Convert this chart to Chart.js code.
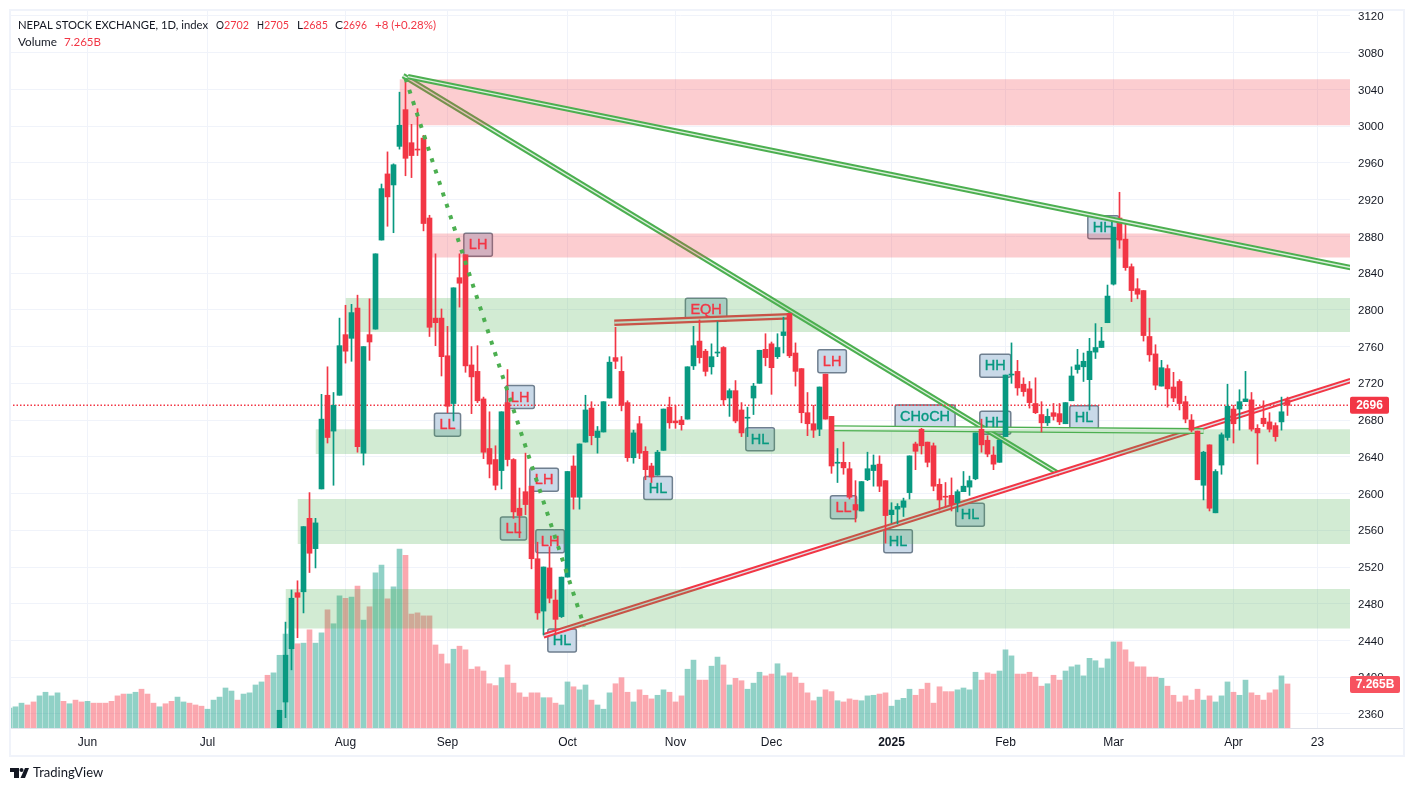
<!DOCTYPE html>
<html>
<head>
<meta charset="utf-8">
<title>NEPSE</title>
<script src="https://cdn.jsdelivr.net/npm/chart.js@4/dist/chart.umd.min.js"></script>
<style>
  html, body { margin: 0; background: #fff; }
  canvas { position: absolute; left: 0; top: 0; }
</style>
</head>
<body>
<canvas id="nepse-chart" width="1414" height="791"></canvas>
<script>
// bar numbers: 0 is the first bar on screen, candles start further right
const firstCandle = 45;

const opens = [2340,2373,2431,2492,2493,2573,2540,2605,2707,2668,2707,2773,2769,2802,2644,2773,2779,2876,2948,2936,2978,3018,2982,2975,2987,2900,2791,2791,2750,2698,2835,2860,2740,2733,2703,2649,2637,2625,2699,2637,2584,2602,2608,2529,2472,2519,2484,2466,2509,2630,2596,2656,2693,2661,2667,2704,2748,2733,2699,2639,2676,2646,2630,2620,2647,2694,2679,2680,2681,2739,2766,2755,2738,2753,2759,2704,2712,2691,2682,2704,2720,2757,2763,2749,2772,2796,2753,2736,2688,2676,2670,2730,2684,2633,2634,2627,2588,2581,2615,2625,2632,2614,2577,2583,2585,2601,2654,2670,2656,2652,2610,2597,2598,2590,2602,2607,2616,2670,2658,2642,2634,2662,2729,2733,2719,2714,2698,2686,2677,2688,2687,2676,2701,2735,2738,2724,2754,2759,2786,2828,2900,2877,2847,2823,2821,2771,2752,2717,2736,2716,2722,2700,2680,2668,2609,2653,2579,2631,2661,2692,2692,2700,2702,2671,2682,2678,2674,2678,2702];
const highs = [2364,2460,2495,2505,2564,2601,2573,2708,2738,2710,2791,2805,2806,2816,2760,2812,2861,2937,2972,2959,3037,3048,3002,3019,2990,2903,2861,2801,2782,2824,2861,2860,2760,2761,2705,2689,2652,2689,2735,2638,2606,2644,2608,2547,2520,2542,2495,2509,2624,2641,2654,2707,2700,2673,2700,2749,2781,2749,2701,2669,2684,2651,2633,2647,2692,2705,2696,2684,2738,2782,2789,2757,2763,2787,2760,2714,2723,2699,2694,2720,2756,2774,2765,2774,2792,2796,2764,2736,2710,2696,2716,2730,2684,2649,2656,2634,2614,2613,2645,2642,2641,2614,2590,2589,2595,2641,2656,2671,2656,2655,2616,2612,2617,2604,2624,2619,2666,2681,2663,2651,2658,2729,2764,2745,2726,2722,2726,2700,2692,2698,2698,2699,2738,2757,2753,2769,2785,2781,2827,2890,2928,2895,2850,2834,2821,2791,2762,2745,2740,2732,2724,2706,2686,2668,2646,2653,2626,2666,2719,2696,2713,2733,2710,2675,2701,2688,2677,2705,2705];
const lows = [2338,2356,2408,2443,2470,2514,2519,2605,2655,2609,2707,2742,2744,2645,2631,2745,2779,2876,2891,2884,2975,2946,2944,2968,2886,2771,2761,2728,2688,2679,2803,2732,2687,2699,2638,2617,2604,2605,2630,2573,2552,2577,2518,2463,2446,2481,2446,2465,2509,2583,2583,2656,2653,2644,2667,2704,2736,2690,2635,2633,2638,2615,2612,2620,2647,2671,2671,2669,2681,2735,2742,2728,2730,2749,2696,2684,2677,2662,2662,2686,2720,2739,2708,2747,2753,2748,2717,2677,2663,2661,2663,2681,2622,2612,2621,2594,2569,2581,2614,2608,2602,2546,2568,2567,2575,2594,2626,2643,2629,2603,2582,2585,2581,2580,2602,2598,2615,2645,2640,2626,2634,2662,2720,2707,2706,2693,2687,2667,2674,2680,2675,2676,2701,2731,2722,2691,2747,2759,2786,2827,2867,2843,2809,2812,2766,2744,2713,2717,2694,2700,2691,2677,2667,2615,2593,2581,2579,2621,2658,2655,2669,2700,2668,2632,2673,2667,2657,2669,2685];
const closes = [2364,2424,2486,2487,2564,2535,2568,2681,2661,2696,2761,2755,2797,2651,2760,2765,2861,2932,2923,2958,3001,2965,2968,2974,2894,2781,2786,2749,2695,2824,2829,2739,2727,2701,2645,2632,2609,2689,2637,2580,2576,2588,2529,2470,2520,2486,2463,2509,2624,2596,2654,2691,2663,2668,2700,2743,2744,2696,2639,2666,2644,2626,2618,2645,2692,2677,2677,2675,2738,2761,2748,2733,2749,2754,2702,2712,2679,2666,2683,2717,2756,2748,2737,2759,2776,2750,2733,2688,2676,2669,2716,2681,2630,2634,2628,2596,2582,2613,2627,2631,2608,2576,2582,2586,2592,2641,2646,2652,2634,2608,2593,2596,2588,2602,2608,2614,2666,2653,2643,2632,2658,2729,2730,2715,2711,2699,2688,2677,2684,2684,2678,2699,2728,2740,2744,2755,2759,2766,2815,2890,2876,2846,2821,2817,2772,2751,2718,2737,2714,2704,2698,2681,2669,2615,2645,2584,2624,2664,2695,2676,2700,2703,2670,2666,2676,2670,2662,2689,2696];

// volume in billions, one per bar from bar 0
const volumes = [3.3,3.5,4.1,3.8,4.3,5.3,5.9,5.3,5.8,4.4,4.0,4.6,4.3,4.4,4.1,4.1,4.1,4.4,5.3,5.6,5.6,5.9,6.4,5.6,4.1,3.5,4.0,4.4,5.1,4.3,4.1,3.8,3.6,3.1,4.6,5.1,6.6,6.1,4.6,5.6,5.8,7.1,7.6,8.7,9.1,12.0,15.5,16.2,13.9,14.0,16.2,14.0,15.7,19.5,17.2,21.8,21.4,21.6,23.4,17.8,20.0,25.6,26.9,21.3,23.3,29.5,28.5,18.8,19.0,18.5,18.5,13.7,12.2,10.6,13.0,13.5,12.9,9.7,10.1,9.4,7.3,7.0,8.3,10.4,7.4,5.8,5.1,5.8,5.8,5.0,5.0,4.1,3.8,7.6,6.8,6.3,7.1,4.6,3.8,3.1,5.8,7.3,8.3,5.9,4.3,6.3,5.4,4.8,5.4,6.3,5.9,4.3,5.3,9.7,11.2,7.9,7.9,10.2,11.7,10.4,7.1,8.2,7.8,6.4,7.4,9.2,8.6,8.9,10.6,8.6,9.1,8.4,7.4,5.8,4.5,5.1,6.3,6.0,4.5,4.3,4.8,4.6,4.5,5.3,5.4,5.6,5.8,3.6,4.6,4.9,6.4,5.4,6.4,7.4,4.1,6.8,6.0,6.0,6.3,6.6,6.3,9.2,7.9,9.1,8.9,9.4,12.9,11.9,8.9,8.9,9.2,8.4,6.9,7.3,8.7,7.9,9.4,10.1,10.4,8.6,11.5,11.1,9.9,11.4,14.2,14.2,12.9,10.9,10.1,10.1,8.4,8.4,8.2,6.9,5.4,4.3,5.3,4.6,6.4,4.6,5.3,4.3,5.3,7.6,5.9,5.4,7.9,5.8,5.4,4.6,5.8,6.3,8.6,7.265];
// direction of the bars left of the first candle, 1 = up
const earlyVolumeUp = [1,1,1,0,0,1,1,1,1,0,1,0,0,1,0,0,0,0,0,0,1,1,0,0,0,1,0,0,1,1,0,0,0,1,1,1,1,1,0,1,1,1,1,0,1];

const timeTicks = [13,33,56,73,93,111,127,147,166,184,204,218];
const timeLabels = ['Jun','Jul','Aug','Sep','Oct','Nov','Dec','2025','Feb','Mar','Apr','23'];
const lastClose = 2696;
const lastVolume = 7.265;

// supply / demand zones: first bar, top price, bottom price
const pinkZoneStart = [65, 70];
const pinkZoneTop = [3051, 2883];
const pinkZoneBottom = [3001, 2857];
const greenZoneStart = [56, 51, 48, 46];
const greenZoneTop = [2813, 2670, 2594, 2496];
const greenZoneBottom = [2776, 2643, 2545, 2453];

// drawn trend lines, two ends each in bar number and price
const downTrendX = [66.4, 223.5];
const downTrendY = [3054, 2846];
const steepTrendX = [65.6, 175];
const steepTrendY = [3055, 2621];
const upTrendX = [89, 223.5];
const upTrendY = [2445, 2723];
const chochLineX = [137.3, 199];
const chochLineY = [2671, 2668];
const eqhLineX = [100.8, 130.1];
const eqhLineY = [2786, 2793];
const dottedX = [66, 95.8];
const dottedY = [3052, 2455];

const markTexts = ['LH','LL','LH','LH','LL','LH','HL','HL','EQH','HL','LH','LL','HL','CHoCH','HL','HH','HH','HL','HH'];
const markBars = [78.1,73,85.1,89.1,84,90.1,92.1,108.1,116.1,125.1,137.1,139,148.1,152.6,160.1,164.3,164.3,179.1,182.3];
const markPrices = [2871,2675,2705,2615,2562,2548,2440,2606,2800,2659,2744,2585,2548,2684,2577,2739,2677,2683,2890];

const UP = '#089981';
const DOWN = '#f23645';
const GREEN_LINE = '#4caf50';
const TEXT = '#131722';
const FONT = '"Liberation Sans", sans-serif';
const PRICE_LINE_ORDER = 60;

function trendLine(xs, ys, color, pale, width, paleWidth, order) {
  const pts = xs.map((x, k) => ({x: x, y: ys[k]}));
  const base = {type: 'line', data: pts, pointRadius: 0, fill: false, borderCapStyle: 'butt'};
  return [
    {...base, borderColor: color, borderWidth: width, order: order},
    {...base, borderColor: pale, borderWidth: paleWidth, order: order - 1},
  ];
}

function zone(start, top, bottom, color) {
  return {
    type: 'line',
    data: [{x: start, y: top}, {x: 224, y: top}],
    pointRadius: 0,
    borderWidth: 0,
    borderColor: 'transparent',
    backgroundColor: color,
    fill: {value: bottom},
    order: 80,
  };
}

const isUp = k => closes[k] >= opens[k];

const datasets = [
  {
    type: 'bar',
    yAxisID: 'yVolume',
    data: volumes.map((v, i) => ({x: i, y: v})),
    backgroundColor: volumes.map((v, i) => {
      const up = i < firstCandle ? earlyVolumeUp[i] : isUp(i - firstCandle);
      return up ? 'rgba(8,153,129,0.45)' : 'rgba(247,82,95,0.5)';
    }),
    barThickness: 5,
    grouped: false,
    order: 100,
  },
  ...trendLine(steepTrendX, steepTrendY, GREEN_LINE, '#dcefdd', 5.5, 1.3, 92),
  ...trendLine(upTrendX, upTrendY, DOWN, '#dfe3ea', 5.5, 1.5, 90),
  ...trendLine(chochLineX, chochLineY, GREEN_LINE, '#f4f9f4', 6, 3.4, 88),
  ...trendLine(eqhLineX, eqhLineY, DOWN, '#e6ecec', 6.5, 2, 86),
  ...pinkZoneStart.map((s, k) => zone(s, pinkZoneTop[k], pinkZoneBottom[k], 'rgba(242,54,69,0.25)')),
  ...greenZoneStart.map((s, k) => zone(s, greenZoneTop[k], greenZoneBottom[k], 'rgba(76,175,80,0.25)')),
  {
    type: 'line',
    data: [{x: 0, y: lastClose}, {x: 224, y: lastClose}],
    pointRadius: 0,
    borderColor: DOWN,
    borderWidth: 1.5,
    borderDash: [1.5, 2],
    order: PRICE_LINE_ORDER,
  },
  {
    type: 'bar',
    data: opens.map((o, k) => ({x: firstCandle + k, y: [lows[k], highs[k]]})),
    backgroundColor: opens.map((o, k) => isUp(k) ? UP : DOWN),
    barThickness: 1,
    grouped: false,
    order: 50,
  },
  {
    type: 'bar',
    data: opens.map((o, k) => ({x: firstCandle + k, y: [o, closes[k]]})),
    backgroundColor: opens.map((o, k) => isUp(k) ? UP : DOWN),
    barThickness: 5,
    minBarLength: 1,
    grouped: false,
    order: 49,
  },
  ...trendLine(downTrendX, downTrendY, GREEN_LINE, '#dcefdd', 5.5, 1.3, 40),
  {
    type: 'line',
    data: dottedX.map((x, k) => ({x: x, y: dottedY[k]})),
    pointRadius: 0,
    borderColor: GREEN_LINE,
    borderWidth: 4,
    borderDash: [4, 8],
    order: 30,
  },
];

function roundBox(ctx, x, y, w, h, fill, stroke) {
  ctx.beginPath();
  ctx.roundRect(x, y, w, h, 2);
  ctx.fillStyle = fill;
  ctx.fill();
  if (stroke) {
    ctx.strokeStyle = stroke;
    ctx.lineWidth = 1.5;
    ctx.stroke();
  }
}

function drawHeader(ctx) {
  const runs = [
    ['NEPAL STOCK EXCHANGE, 1D, index', 18, 190, TEXT], ['O', 216, 8, TEXT], ['2702', 224, 25, DOWN],
    ['H', 257, 7, TEXT], ['2705', 264, 25, DOWN], ['L', 297, 6, TEXT], ['2685', 303, 25, DOWN],
    ['C', 335, 8, TEXT], ['2696', 343, 24, DOWN], ['+8 (+0.28%)', 375, 61, DOWN],
  ];
  ctx.font = '12px Lato, ' + FONT;
  ctx.textAlign = 'left';
  ctx.textBaseline = 'middle';
  runs.forEach(r => {
    ctx.fillStyle = r[3];
    ctx.fillText(r[0], r[1], 25, r[2]);
  });
  ctx.fillStyle = TEXT;
  ctx.fillText('Volume', 18, 42, 39);
  ctx.fillStyle = DOWN;
  ctx.fillText(lastVolume + 'B', 64, 42, 37);
}

function drawLogo(ctx) {
  ctx.fillStyle = TEXT;
  ctx.fillRect(10, 768, 9, 4);
  ctx.fillRect(14, 768, 5, 10);
  ctx.beginPath();
  ctx.arc(21.5, 770, 2, 0, Math.PI * 2);
  ctx.fill();
  ctx.beginPath();
  ctx.moveTo(25, 768);
  ctx.lineTo(29, 768);
  ctx.lineTo(25, 778);
  ctx.lineTo(20.5, 778);
  ctx.closePath();
  ctx.fill();
  ctx.font = '13px Lato, ' + FONT;
  ctx.textAlign = 'left';
  ctx.fillText('TradingView', 33, 773, 71);
}

function markPosition(chart, k) {
  return {
    cx: chart.scales.x.getPixelForValue(markBars[k]),
    cy: chart.scales.y.getPixelForValue(markPrices[k]),
  };
}

const dressing = {
  id: 'dressing',
  beforeDatasetsDraw(chart) {
    // mark boxes sit under the zones, so the zones tint them
    const ctx = chart.ctx;
    ctx.save();
    ctx.font = '14.5px ' + FONT;
    markTexts.forEach((t, k) => {
      const p = markPosition(chart, k);
      const w = ctx.measureText(t).width + 10;
      roundBox(ctx, p.cx - w / 2, p.cy - 11.5, w, 23, '#c9d9e8', '#6f7f8f');
    });
    ctx.restore();
  },
  beforeDatasetDraw(chart, args) {
    // mark texts stay clear of the zone tint but under the candles
    if (chart.data.datasets[args.index].order !== PRICE_LINE_ORDER) return;
    const ctx = chart.ctx;
    ctx.save();
    ctx.font = '14.5px ' + FONT;
    ctx.textAlign = 'center';
    ctx.textBaseline = 'middle';
    ctx.lineWidth = 0.4;
    markTexts.forEach((t, k) => {
      const p = markPosition(chart, k);
      const color = ['HL', 'HH', 'CHoCH'].includes(t) ? UP : DOWN;
      ctx.fillStyle = color;
      ctx.strokeStyle = color;
      ctx.fillText(t, p.cx, p.cy + 0.5);
      ctx.strokeText(t, p.cx, p.cy + 0.5);
    });
    ctx.restore();
  },
  afterDraw(chart) {
    const ctx = chart.ctx;
    ctx.save();
    ctx.strokeStyle = '#e0e3eb';
    ctx.lineWidth = 1;
    ctx.beginPath();
    ctx.moveTo(11, 728.5);
    ctx.lineTo(1404, 728.5);
    ctx.stroke();
    ctx.strokeStyle = '#f0f3fa';
    ctx.lineWidth = 2;
    ctx.strokeRect(10, 10, 1394, 746);

    const yPrice = chart.scales.y.getPixelForValue(lastClose);
    const yVol = chart.scales.yVolume.getPixelForValue(lastVolume);
    roundBox(ctx, 1350, yPrice - 8.5, 39, 17, DOWN);
    roundBox(ctx, 1350, yVol - 8, 50, 17, '#f7525f');
    ctx.fillStyle = '#fff';
    ctx.font = 'bold 12px ' + FONT;
    ctx.textAlign = 'center';
    ctx.textBaseline = 'middle';
    ctx.fillText(String(lastClose), 1369.5, yPrice + 0.5);
    ctx.fillText(lastVolume + 'B', 1375, yVol + 0.5, 42);

    drawHeader(ctx);
    drawLogo(ctx);
    ctx.restore();
  },
};

new Chart(document.getElementById('nepse-chart'), {
  type: 'bar',
  data: {datasets: datasets},
  plugins: [dressing],
  options: {
    responsive: false,
    animation: false,
    devicePixelRatio: 1,
    layout: {padding: {left: 11, top: 11, right: 0, bottom: 0}},
    plugins: {legend: {display: false}, tooltip: {enabled: false}},
    scales: {
      x: {
        type: 'linear',
        offset: false,
        min: 0.25,
        max: 223.417,
        afterFit: s => { s.height = 63; s.paddingLeft = 0; s.paddingRight = 0; },
        afterBuildTicks: s => { s.ticks = timeTicks.map(v => ({value: v})); },
        grid: {color: '#f0f3fa', drawTicks: false, offset: false},
        border: {display: false},
        ticks: {
          autoSkip: false,
          maxRotation: 0,
          padding: 7,
          color: TEXT,
          font: c => ({family: FONT, size: 12, weight: c.tick && c.tick.value === 147 ? 'bold' : 'normal'}),
          callback: v => timeLabels[timeTicks.indexOf(v)],
        },
      },
      y: {
        position: 'right',
        min: 2344.7,
        max: 3125.4,
        afterFit: s => { s.width = 64; s.paddingTop = 0; s.paddingBottom = 0; },
        grid: {color: '#f0f3fa', drawTicks: false},
        border: {display: false},
        ticks: {
          stepSize: 40,
          includeBounds: false,
          padding: 8,
          labelOffset: 1,
          color: TEXT,
          font: {family: FONT, size: 11.5},
          callback: v => String(v),
        },
      },
      yVolume: {display: false, min: 0, max: 118.3},
    },
  },
});
</script>
</body>
</html>
